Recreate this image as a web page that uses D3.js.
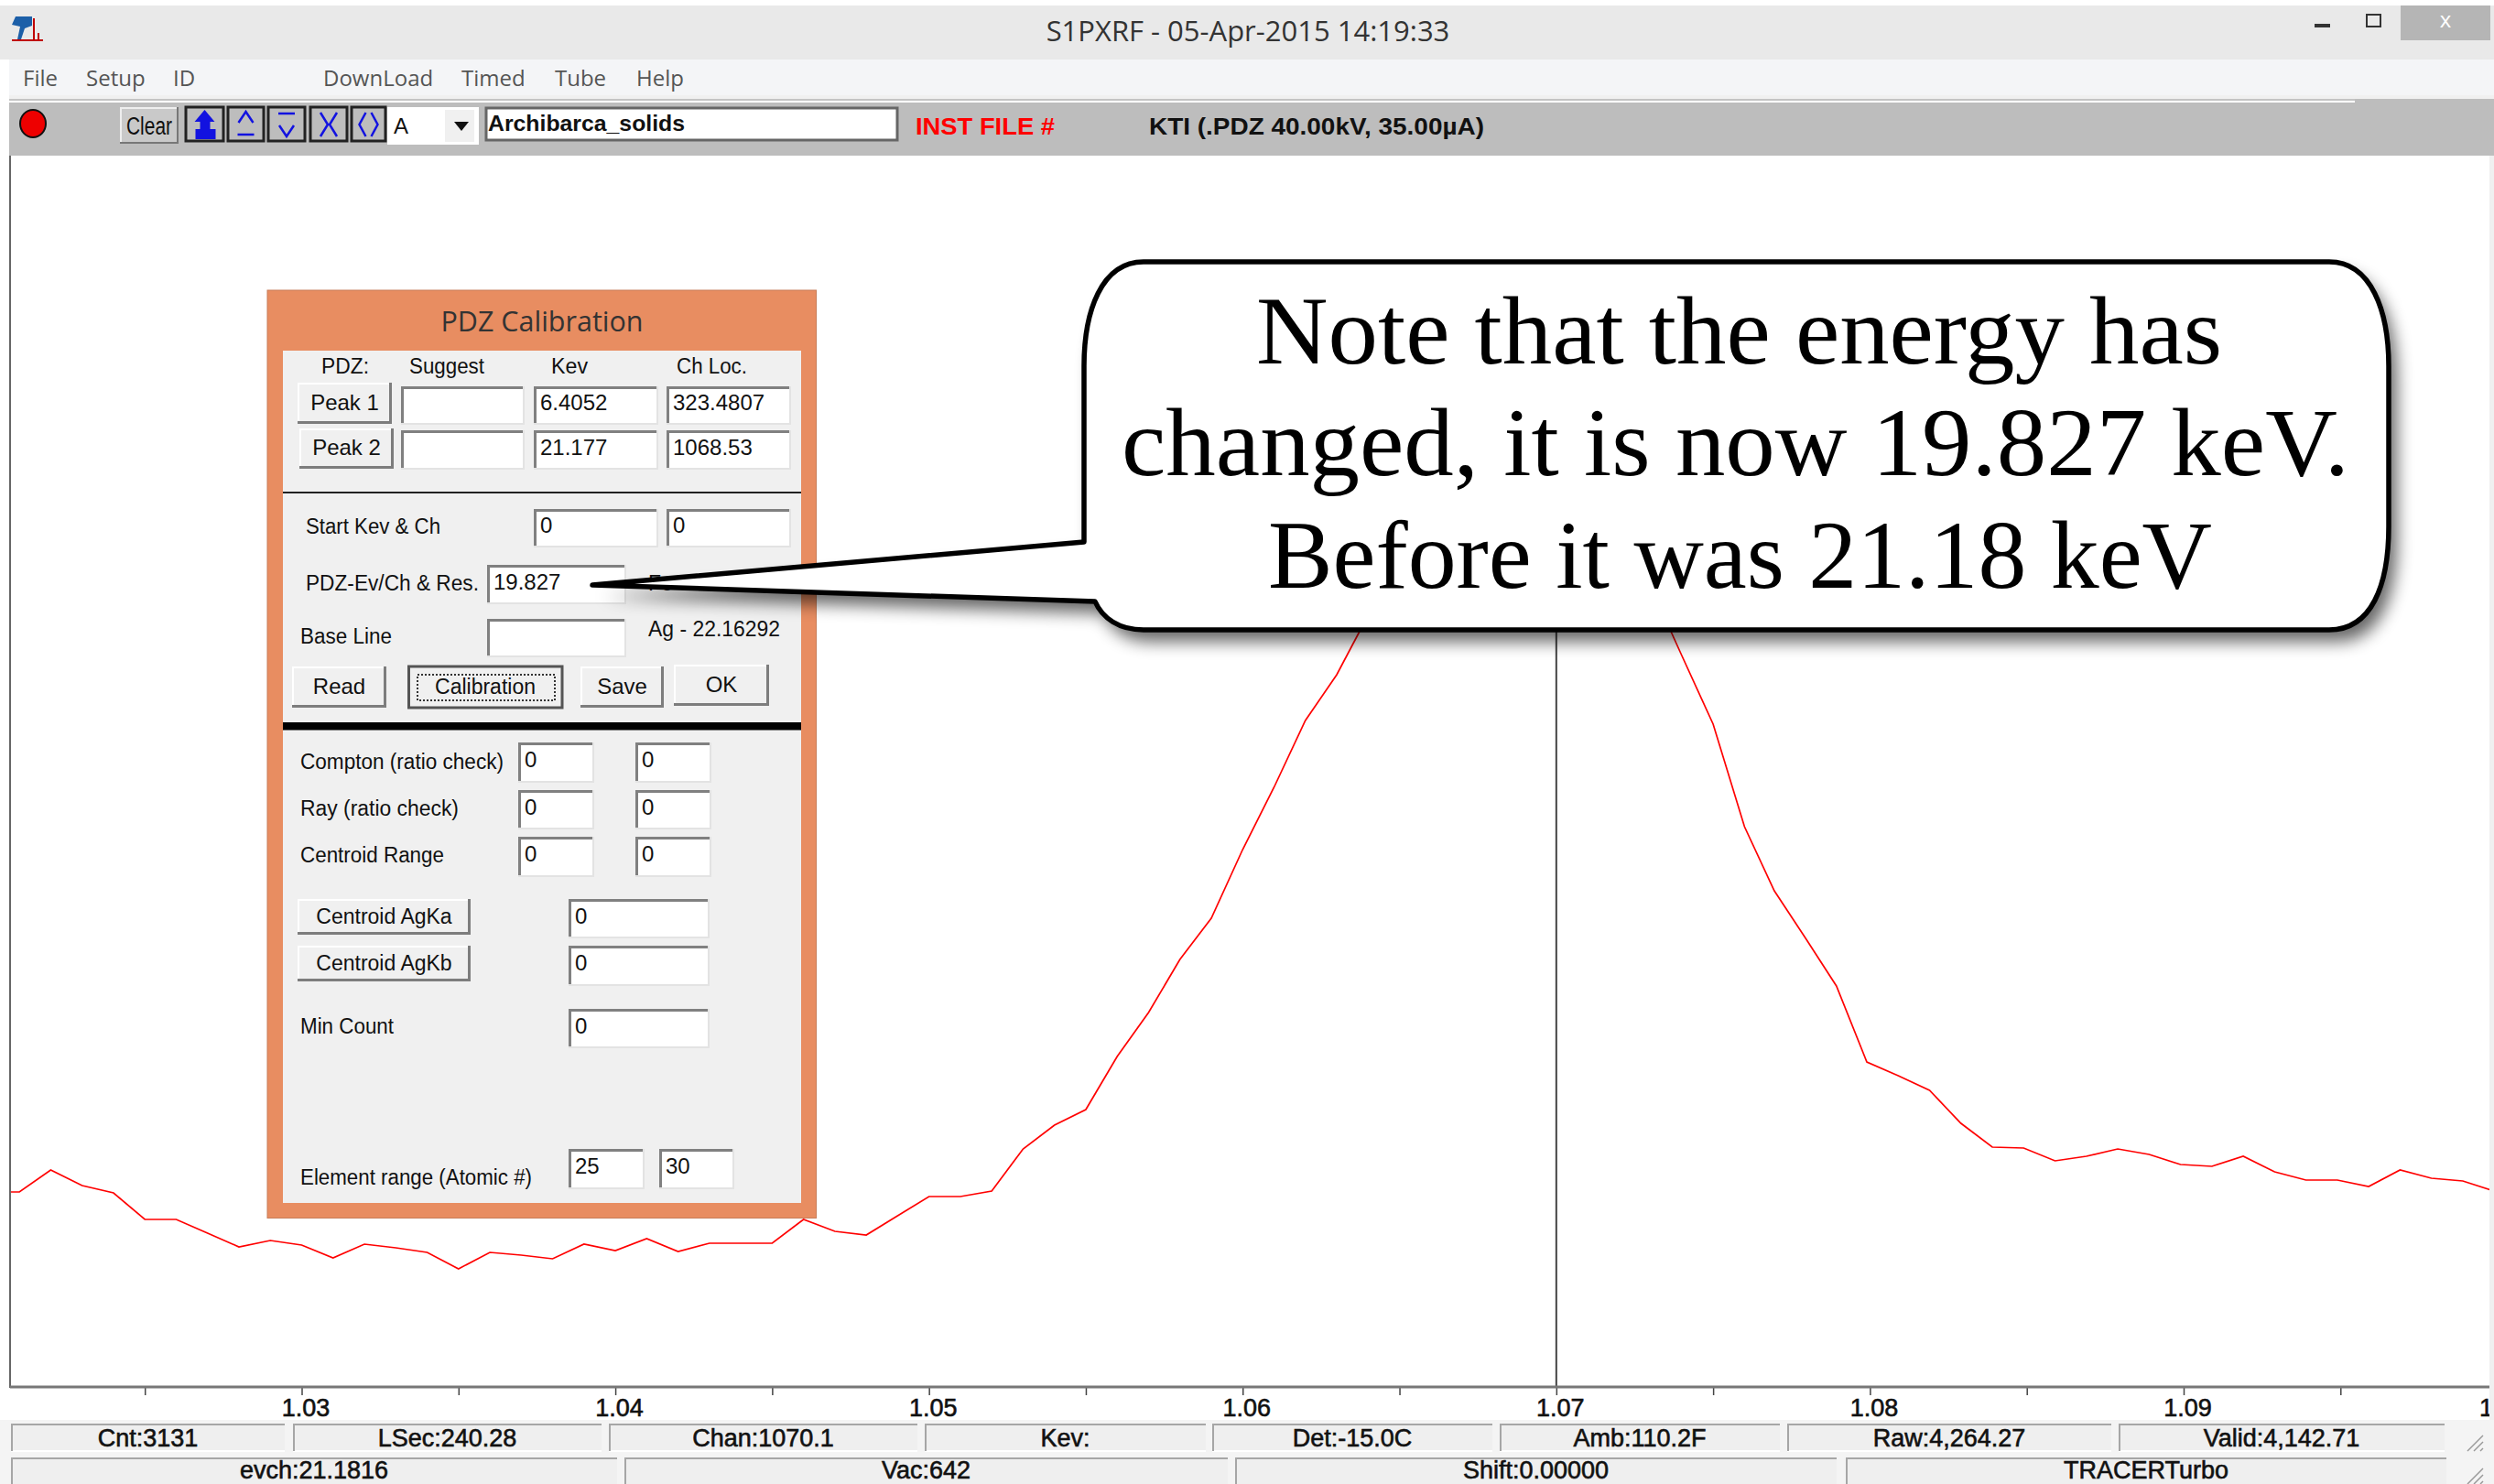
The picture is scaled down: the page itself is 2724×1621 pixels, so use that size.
<!DOCTYPE html>
<html>
<head>
<meta charset="utf-8">
<script src="https://cdn.jsdelivr.net/npm/d3@7"></script>
<style>
  html, body { margin: 0; padding: 0; background: #fff; }
  svg { display: block; }
  text { font-family: "Liberation Sans", sans-serif; }
</style>
</head>
<body>
<div id="chart"></div>
<script>
// spectrum (peak top is behind the callout, so estimated)
var kev = [1.0200, 1.0210, 1.0220, 1.0230, 1.0240, 1.0250, 1.0260, 1.0270, 1.0280, 1.0290,
           1.0300, 1.0310, 1.0320, 1.0330, 1.0340, 1.0350, 1.0360, 1.0370, 1.0380, 1.0390,
           1.0400, 1.0410, 1.0420, 1.0430, 1.0440, 1.0450, 1.0460, 1.0470, 1.0480, 1.0490,
           1.0500, 1.0510, 1.0520, 1.0530, 1.0540, 1.0550, 1.0560, 1.0570, 1.0580, 1.0590,
           1.0600, 1.0610, 1.0620, 1.0630, 1.0640, 1.0650, 1.0660, 1.0670, 1.0680, 1.0690,
           1.0700, 1.0710, 1.0720, 1.0730, 1.0740, 1.0750, 1.0760, 1.07695, 1.07795, 1.07893,
           1.0799, 1.0809, 1.0819, 1.0829, 1.0839, 1.0849, 1.0859, 1.0869, 1.0879, 1.0889,
           1.0899, 1.0909, 1.0919, 1.0929, 1.0939, 1.0949, 1.0959, 1.0969, 1.0979, 1.0989,
           1.0999];
var counts = [213, 213, 237, 220, 212, 183, 183, 168, 153, 160,
              155, 141, 156, 152, 147, 129, 147, 144, 140, 156,
              149, 162, 148, 157, 157, 157, 183, 170, 166, 187,
              208, 208, 214, 260, 286, 303, 361, 409, 467, 512,
              587, 655, 728, 778, 843, 915, 1000, 1070, 1115, 1130,
              1120, 1075, 995, 875, 799, 724, 612, 542, 490, 438,
              355, 340, 324, 288, 262, 261, 247, 252, 260, 254,
              243, 241, 252, 235, 226, 226, 219, 237, 228, 225,
              214];
var majorTicks = [1.03, 1.04, 1.05, 1.06, 1.07, 1.08, 1.09, 1.10];
var tickLabels = ["1.03", "1.04", "1.05", "1.06", "1.07", "1.08", "1.09", "1.1"];
var minorTicks = [1.025, 1.035, 1.045, 1.055, 1.065, 1.075, 1.085, 1.095];
var cursorKev = 1.07;

var menuItems = ["File", "Setup", "ID", "DownLoad", "Timed", "Tube", "Help"];
var statusTop = ["Cnt:3131", "LSec:240.28", "Chan:1070.1", "Kev:", "Det:-15.0C", "Amb:110.2F", "Raw:4,264.27", "Valid:4,142.71"];
var statusBottom = ["evch:21.1816", "Vac:642", "Shift:0.00000", "TRACERTurbo"];
var calloutLines = ["Note that the energy has", "changed, it is now 19.827 keV.", "Before it was 21.18 keV"];

var w = 2724, h = 1621;
var plotLeft = 11, plotRight = 2719, plotTop = 170, plotBottom = 1515;

var svg = d3.select("#chart").append("svg").attr("width", w).attr("height", h);
var defs = svg.append("defs");
defs.append("clipPath").attr("id", "plotClip").append("rect")
    .attr("x", plotLeft).attr("y", plotTop)
    .attr("width", plotRight - plotLeft).attr("height", plotBottom - plotTop);
defs.append("clipPath").attr("id", "axisClip").append("rect")
    .attr("x", plotLeft).attr("y", plotBottom - 2)
    .attr("width", plotRight - plotLeft).attr("height", 40);
defs.append("filter").attr("id", "blur")
    .attr("x", "-10%").attr("y", "-10%").attr("width", "120%").attr("height", "125%")
    .append("feGaussianBlur").attr("stdDeviation", 9);

function box(x0, y0, x1, y1, fill) {
  return svg.append("rect").attr("x", x0).attr("y", y0)
      .attr("width", x1 - x0).attr("height", y1 - y0).attr("fill", fill);
}
function seg(x0, y0, x1, y1, color, sw) {
  return svg.append("line").attr("x1", x0).attr("y1", y0).attr("x2", x1).attr("y2", y1)
      .attr("stroke", color).attr("stroke-width", sw);
}
function label(x, y, s, size, anchor, color) {
  return svg.append("text").attr("x", x).attr("y", y).attr("dy", "0.35em")
      .attr("font-size", size || 23).attr("text-anchor", anchor || "start")
      .attr("fill", color || "#111").text(s);
}
function uiLabel(x, y, s, size, anchor, color) {
  return label(x, y, s, size, anchor, color).style("font-family", "'Open Sans', sans-serif");
}
function bitmapLabel(x, y, s, width, size, anchor, color) {
  return label(x, y, s, size, anchor, color)
      .attr("textLength", width).attr("lengthAdjust", "spacingAndGlyphs");
}
function field(x0, y0, x1, y1, value) {
  box(x0, y0, x1, y1, "#fff");
  seg(x0, y0 + 1.5, x1, y0 + 1.5, "#808080", 3);
  seg(x0 + 1.5, y0, x0 + 1.5, y1, "#808080", 3);
  seg(x0, y1 - 1, x1, y1 - 1, "#e3e3e3", 2);
  seg(x1 - 1, y0, x1 - 1, y1, "#e3e3e3", 2);
  if (value) label(x0 + 7, (y0 + y1) / 2 - 3, value, 24);
}
function button(x0, y0, x1, y1, s, size) {
  box(x0, y0, x1, y1, "#f0f0f0");
  seg(x0, y0 + 1, x1, y0 + 1, "#fff", 2);
  seg(x0 + 1, y0, x0 + 1, y1, "#fff", 2);
  seg(x0, y1 - 1.5, x1, y1 - 1.5, "#7d7d7d", 3);
  seg(x1 - 1.5, y0, x1 - 1.5, y1, "#7d7d7d", 3);
  if (s) label((x0 + x1) / 2, (y0 + y1) / 2 - 1, s, size || 24, "middle");
}

// window chrome
box(0, 6, w, 65, "#e9e9e9");
box(10, 65, w, 104, "#f4f5f7");
box(10, 104, w, 112, "#f0f0f0");
seg(10, 109, w, 109, "#c4c4c4", 2);
box(10, 112, w, plotTop, "#bdbdbd");
box(2572, 108, w, 112, "#bdbdbd");
seg(10, 111, 2572, 111, "#fff", 2);
box(plotRight, plotTop, w, 1551, "#f0f0f0");

uiLabel(1363, 34, "S1PXRF - 05-Apr-2015 14:19:33", 31, "middle", "#333");
box(2622, 6, 2720, 44, "#b5b5b5");
uiLabel(2671, 22, "x", 24, "middle", "#fff");
box(2528, 26, 2545, 30, "#333");
svg.append("rect").attr("x", 2585).attr("y", 16).attr("width", 15).attr("height", 13)
    .attr("fill", "none").attr("stroke", "#333").attr("stroke-width", 2);

// app icon
box(13, 43, 47, 45, "#c00000");
seg(37, 20, 37, 44, "#c00000", 2);
seg(42, 36, 42, 44, "#c00000", 2);
svg.append("path").attr("d", "M17 18h18v10l-8 3l-4 12h-4l3-14l-9-2z").attr("fill", "#1c5fa8");

var menuX = [25, 94, 189, 353, 504, 606, 695];
menuItems.forEach(function(s, i) {
  uiLabel(menuX[i], 86, s, 24, "start", "#555");
});

// toolbar
svg.append("ellipse").attr("cx", 36).attr("cy", 135).attr("rx", 14).attr("ry", 15)
    .attr("fill", "#ee0000").attr("stroke", "#111").attr("stroke-width", 2);
box(131, 117, 195, 157, "#c9c9c9");
seg(131, 118, 195, 118, "#eee", 2);
seg(132, 117, 132, 157, "#eee", 2);
seg(131, 156, 195, 156, "#777", 2);
seg(194, 117, 194, 157, "#777", 2);
bitmapLabel(163, 138, "Clear", 50, 27, "middle");

var iconBoxes = [[203, 244], [249, 288], [293, 333], [339, 379], [384, 421]];
var iconPaths = [
  "M0 -16l11 13h-5v8h6v11h-22v-11h5v-8h-6z",
  "M-8 -2L0 -14L8 -2M-9 11H9",
  "M-9 -12H9M-8 1L0 13L8 1",
  "M-9 -13L-1 0L-9 13M9 -13L1 0L9 13",
  "M-3 -13L-10 0L-3 13M3 -13L10 0L3 13"
];
iconBoxes.forEach(function(b, i) {
  box(b[0], 117, b[1], 154, "#bdbdbd").attr("stroke", "#222").attr("stroke-width", 3);
  var icon = svg.append("path").attr("d", iconPaths[i])
      .attr("transform", "translate(" + (b[0] + b[1]) / 2 + ",136)");
  if (i == 0) icon.attr("fill", "#1212e0");
  else icon.attr("fill", "none").attr("stroke", "#1212e0").attr("stroke-width", 2.5);
});

box(423, 117, 523, 158, "#fff");
box(486, 120, 518, 155, "#f0f0f0");
label(430, 138, "A", 24);
svg.append("path").attr("d", "M496 133h16l-8 10z").attr("fill", "#111");

box(531, 118, 980, 153, "#fff").attr("stroke", "#666").attr("stroke-width", 3);
bitmapLabel(533, 135, "Archibarca_solids", 215, 24).attr("font-weight", "bold");
bitmapLabel(1000, 138, "INST FILE #", 152, 25).attr("font-weight", "bold").attr("fill", "#ff0000");
bitmapLabel(1255, 138, "KTI  (.PDZ 40.00kV, 35.00\u00b5A)", 366, 25).attr("font-weight", "bold");

// plot
var x = d3.scaleLinear().domain([1.03, 1.09]).range([329.5, 2385]);
var y = d3.scaleLinear().domain([0, 1345]).range([plotBottom, plotTop]);

var line = d3.line()
    .x(function(d, i) { return x(kev[i]); })
    .y(function(d) { return y(d); });

svg.append("path")
    .datum(counts)
    .attr("clip-path", "url(#plotClip)")
    .attr("fill", "none")
    .attr("stroke", "#ff0000")
    .attr("stroke-width", 1.7)
    .attr("d", line);

// cursor only shows below the callout
seg(x(cursorKev), 500, x(cursorKev), plotBottom, "#444", 2);
seg(plotLeft, plotTop, plotLeft, plotBottom + 1, "#666", 2);

var axisGroup = svg.append("g").attr("clip-path", "url(#axisClip)");

var axis = d3.axisBottom(x)
    .tickValues(majorTicks)
    .tickSize(9)
    .tickPadding(4)
    .tickFormat(function(d, i) { return tickLabels[i]; });
var axisG = axisGroup.append("g").attr("transform", "translate(0," + plotBottom + ")").call(axis);
axisG.select(".domain").remove();
axisG.selectAll("line").attr("stroke", "#444").attr("stroke-width", 1.5);
axisG.selectAll("text")
    .attr("font-size", 27)
    .attr("dx", 4)
    .attr("fill", "#111")
    .attr("stroke", "#111")
    .attr("stroke-width", 0.6);
// last label starts left of its tick and runs into the window edge
axisG.selectAll("text").filter(function(d, i) { return i == majorTicks.length - 1; })
    .attr("text-anchor", "start")
    .attr("dx", -20);

var minorAxis = d3.axisBottom(x).tickValues(minorTicks).tickSize(9).tickFormat("");
var minorG = axisGroup.append("g").attr("transform", "translate(0," + plotBottom + ")").call(minorAxis);
minorG.select(".domain").remove();
minorG.selectAll("line").attr("stroke", "#444").attr("stroke-width", 1.5);

seg(plotLeft, plotBottom, plotRight, plotBottom, "#777", 3);

// status bars
box(0, 1551, w, h, "#f4f4f4");
var topCells = [[12, 311], [320, 657], [665, 1002], [1010, 1317], [1324, 1630], [1638, 1944], [1952, 2306], [2314, 2670]];
var bottomCells = [[12, 674], [682, 1341], [1349, 2006], [2016, 2672]];

function statusCell(c, yTop, yBot, yText, s) {
  box(c[0], yTop, c[1], yBot, "#efefef");
  seg(c[0], yBot, c[1], yBot, "#fff", 2);
  seg(c[0], yTop + 1, c[1], yTop + 1, "#a6a6a6", 2);
  seg(c[0] + 1, yTop, c[0] + 1, yBot, "#a6a6a6", 2);
  label((c[0] + c[1]) / 2, yText, s, 27, "middle")
      .attr("stroke", "#111").attr("stroke-width", 0.6);
}
statusTop.forEach(function(s, i) { statusCell(topCells[i], 1555, 1585, 1571, s); });
statusBottom.forEach(function(s, i) { statusCell(bottomCells[i], 1592, 1625, 1606, s); });

[0, 7, 14].forEach(function(d) {
  seg(2695 + d, 1585, 2712, 1568 + d, "#999", 1.5);
  seg(2695 + d, 1621, 2712, 1604 + d, "#999", 1.5);
});

// calibration dialog
box(292, 317, 891.5, 1330.5, "#e88d61").attr("stroke", "#c77d58").attr("stroke-width", 1);
box(309, 383, 875, 1314, "#f0f0f0");
uiLabel(592, 351, "PDZ Calibration", 30.5, "middle", "#333");

bitmapLabel(351, 400, "PDZ:", 52);
bitmapLabel(447, 400, "Suggest", 82);
bitmapLabel(602, 400, "Kev", 40);
bitmapLabel(739, 400, "Ch Loc.", 77);

button(325, 418, 428, 463, "Peak 1");
button(327, 468, 430, 512, "Peak 2");
field(438, 422, 573, 464);
field(438, 470, 573, 513);
field(583, 422, 719, 464, "6.4052");
field(583, 470, 719, 513, "21.177");
field(728, 422, 864, 464, "323.4807");
field(728, 470, 864, 513, "1068.53");
seg(309, 538, 875, 538, "#222", 2);

bitmapLabel(334, 575, "Start Kev & Ch", 147);
field(583, 556, 719, 598, "0");
field(728, 556, 864, 598, "0");
bitmapLabel(334, 637, "PDZ-Ev/Ch & Res.", 189);
field(532, 617, 684, 660, "19.827");
label(708, 637, "Fe", 23);
bitmapLabel(328, 695, "Base Line", 100);
field(532, 676, 684, 718);
bitmapLabel(708, 687, "Ag - 22.16292", 144);

button(319, 728, 422, 773, "Read");
box(446.5, 728, 614, 773, "#f0f0f0").attr("stroke", "#555").attr("stroke-width", 3);
svg.append("rect").attr("x", 456).attr("y", 737).attr("width", 150).attr("height", 28)
    .attr("fill", "none").attr("stroke", "#333").attr("stroke-width", 2).attr("stroke-dasharray", "2,2");
label(530, 750, "Calibration", 23, "middle");
button(634, 728, 725, 773, "Save");
button(736, 726, 840, 771, "OK");
box(309, 789, 875, 797.5, "#000");

bitmapLabel(328, 832, "Compton (ratio check)", 222);
field(566, 811, 649, 855, "0");
field(694, 811, 777, 855, "0");
bitmapLabel(328, 883, "Ray (ratio check)", 173);
field(566, 863, 649, 906, "0");
field(694, 863, 777, 906, "0");
bitmapLabel(328, 934, "Centroid Range", 157);
field(566, 914, 649, 958, "0");
field(694, 914, 777, 958, "0");

button(325, 982, 514, 1021, "Centroid AgKa", 23);
button(325, 1033, 514, 1072, "Centroid AgKb", 23);
field(621, 982, 775, 1025, "0");
field(621, 1033, 775, 1077, "0");
bitmapLabel(328, 1121, "Min Count", 102);
field(621, 1102, 775, 1145, "0");
bitmapLabel(328, 1286, "Element range (Atomic #)", 253);
field(621, 1255, 704, 1299, "25");
field(720, 1255, 802, 1299, "30");

// callout with its drop shadow
var calloutPath = "M1249 286H2544C2590 286 2609 340 2609 400V575C2609 640 2590 688 2544 688H1249"
    + "C1222 688 1204 675 1196 657L647 639L1184 592V400C1184 340 1203 286 1249 286Z";
svg.append("path").attr("d", calloutPath)
    .attr("transform", "translate(9,13)")
    .attr("fill", "#000").attr("opacity", 0.6)
    .attr("filter", "url(#blur)");
svg.append("path").attr("d", calloutPath)
    .attr("fill", "#fff").attr("stroke", "#000").attr("stroke-width", 5.5)
    .attr("stroke-linejoin", "round");

var calloutBase = [397, 519, 642];
var calloutX = [1372, 1225, 1385];
var calloutW = [1055, 1341, 1031];
calloutLines.forEach(function(s, i) {
  svg.append("text").attr("x", calloutX[i]).attr("y", calloutBase[i])
      .style("font-family", "'Liberation Serif', serif")
      .attr("font-size", 106)
      .attr("fill", "#000")
      .attr("textLength", calloutW[i])
      .attr("lengthAdjust", "spacingAndGlyphs")
      .text(s);
});
</script>
</body>
</html>
